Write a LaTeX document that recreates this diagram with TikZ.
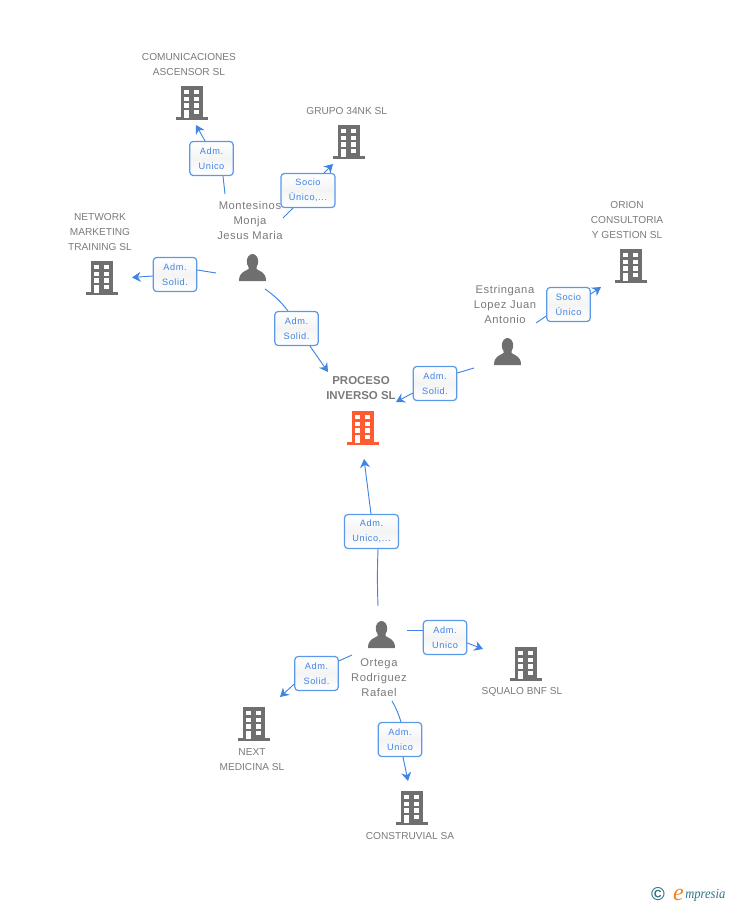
\documentclass[tikz,border=0pt]{standalone}
\usepackage{fontspec}
\setmainfont{Liberation Sans}
\newfontfamily\boxfont[LetterSpace=6]{Liberation Sans}
\newfontfamily\namefont[LetterSpace=5]{Liberation Sans}
\newfontfamily\logofont{Liberation Serif}
\usetikzlibrary{arrows.meta, positioning}

\definecolor{icongray}{HTML}{6F6F6F}
\definecolor{iconred}{HTML}{FF5A30}
\definecolor{textgray}{HTML}{7A7A7A}
\definecolor{linkblue}{HTML}{3F84E5}
\definecolor{boxblue}{HTML}{5A98E8}
\definecolor{boxshade}{HTML}{F4F4F4}
\definecolor{logoteal}{HTML}{2F7488}
\definecolor{logoorange}{HTML}{F58220}

\tikzset{
    pics/bldg/.style={code={
        \node[minimum width=24pt, minimum height=26.25pt, inner sep=0pt] (-body) at (0,0) {};
        \fill[#1] (-11,-16) rectangle (11,16);
        \fill[#1] (-16,15) rectangle (16,18);
        \foreach \wy in {-12,-5.3,1.3} {
            \fill[white] (-7.7,\wy) rectangle (-2.7,\wy+4.4);
            \fill[white] (2.3,\wy) rectangle (7.3,\wy+4.4);
        }
        \fill[white] (-7.7,8) rectangle (-2.7,16);
        \fill[white] (2.3,8) rectangle (7.3,12.4);
    }},
    pics/bldg/.default=icongray,
    person/.pic={
        \node[minimum width=20.25pt, minimum height=20.25pt, inner sep=0pt] (-body) at (0,0) {};
        \fill[icongray] (0,-6) ellipse (5.7 and 7.5);
        \fill[icongray] (-4,-2) -- (-4,1.5) .. controls (-7,4) and (-13.5,4) .. (-13.5,13.5)
            -- (13.5,13.5) .. controls (13.5,4) and (7,4) .. (4,1.5) -- (4,-2) -- cycle;
    },
    lbl/.style={font=\fontsize{7.6}{11.25}\selectfont, text=textgray, align=center, inner sep=0pt},
    who/.style={lbl, font=\namefont\fontsize{8.4}{11.25}\selectfont},
    rel/.style={draw=boxblue, line width=0.9pt, rounded corners=2.5pt, top color=white, bottom color=white,
        middle color=boxshade, text=linkblue, font=\boxfont\fontsize{6.9}{11.25}\selectfont, align=center,
        inner sep=0pt, minimum height=25.5pt},
    relsmall/.style={rel, minimum width=32.5pt},
    relwide/.style={rel, minimum width=40.5pt},
    link/.style={draw=linkblue, line width=0.7pt},
    linkto/.style={link, -{Stealth[length=6.5pt, width=7.5pt]}},
}

\begin{document}
\begin{tikzpicture}[x=0.75pt, y=-0.75pt, node distance=30pt, on grid]
    \useasboundingbox (0,0) rectangle (728,905);

    % companies
    \pic (comm) at (191.5,102) {bldg};
    \pic (grupo) at (349,141) {bldg};
    \pic (network) at (102,277) {bldg};
    \pic (orion) at (631,265) {bldg};
    \pic (proceso) at (363,427) {bldg=iconred};
    \pic (squalo) at (526,663) {bldg};
    \pic (next) at (254,723) {bldg};
    \pic (constru) at (412,807) {bldg};

    % people
    \pic (montesinos) at (252.5,267.5) {person};
    \pic (estringana) at (507.5,351.5) {person};
    \pic (ortega) at (381.5,634.5) {person};

    % names
    \node[lbl, above=27.8pt of comm-body, xshift=-1.9pt] (commname) {COMUNICACIONES\\ASCENSOR SL};
    \node[lbl, above=22.5pt of grupo-body, xshift=-1.7pt] (gruponame) {GRUPO 34NK SL};
    \node[lbl, above=34pt of network-body, xshift=-1.5pt] (networkname) {NETWORK\\MARKETING\\TRAINING SL};
    \node[lbl, above=34pt of orion-body, xshift=-3pt] (orionname) {ORION\\CONSULTORIA\\Y GESTION SL};
    \node[lbl, above=29.3pt of proceso-body, xshift=-1.5pt, font=\fontsize{8.6}{11.25}\selectfont\bfseries] (procesoname) {PROCESO\\INVERSO SL};
    \node[lbl, below=21.8pt of squalo-body, xshift=-3pt] (squaloname) {SQUALO BNF SL};
    \node[lbl, below=27.4pt of next-body, xshift=-1.5pt] (nextname) {NEXT\\MEDICINA SL};
    \node[lbl, below=21.8pt of constru-body, xshift=-1.5pt] (construname) {CONSTRUVIAL SA};
    \node[who, above=35.6pt of montesinos-body, xshift=-1.9pt] (montesinosname) {Montesinos\\Monja\\Jesus Maria};
    \node[who, above=35.6pt of estringana-body, xshift=-1.9pt] (estringananame) {Estringana\\Lopez Juan\\Antonio};
    \node[who, below=32.2pt of ortega-body, xshift=-1.9pt] (orteganame) {Ortega\\Rodriguez\\Rafael};

    % free ends of the links
    \coordinate (m1) at (225,194);
    \coordinate (m2) at (283,218);
    \coordinate (m3) at (216,273);
    \coordinate (m4) at (265,289);
    \coordinate (e1) at (536,323);
    \coordinate (e2) at (474,368);
    \coordinate (o1) at (378,606);
    \coordinate (o2) at (407,630);
    \coordinate (o3) at (352,655);
    \coordinate (o4) at (392,701);
    \coordinate (t1) at (196,125);
    \coordinate (t2) at (333,164);
    \coordinate (t3) at (132,277.5);
    \coordinate (t4) at (328,372);
    \coordinate (t5) at (601,287);
    \coordinate (t6) at (396,402);
    \coordinate (t7) at (364,459);
    \coordinate (t8) at (483,649);
    \coordinate (t9) at (280,697);
    \coordinate (t10) at (408,781);

    % relations
    \node[relsmall] (r1) at (211.5,158.5) {Adm.\\Unico};
    \node[relwide] (r2) at (308,190.5) {Socio\\Único,...};
    \node[relsmall] (r3) at (175,274.5) {Adm.\\Solid.};
    \node[relsmall] (r4) at (296.5,328.5) {Adm.\\Solid.};
    \node[relsmall] (r5) at (568.5,304.5) {Socio\\Único};
    \node[relsmall] (r6) at (435,383.5) {Adm.\\Solid.};
    \node[relwide] (r7) at (371.5,531.5) {Adm.\\Unico,...};
    \node[relsmall] (r8) at (445,637.5) {Adm.\\Unico};
    \node[relsmall] (r9) at (316.5,673.5) {Adm.\\Solid.};
    \node[relsmall] (r10) at (400,739.5) {Adm.\\Unico};

    \draw[link] (m1) -- (r1.south -| 223,0);
    \draw[linkto] (r1.north -| 205,0) -- (t1);
    \draw[link] (m2) -- (r2.south -| 293,0);
    \draw[linkto] (r2.north -| 324,0) -- (t2);
    \draw[link] (m3) -- (r3.east |- 0,270);
    \draw[linkto] (r3.west |- 0,276) -- (t3);
    \draw[link] (m4) to[bend left=8] (r4.north -| 288,0);
    \draw[linkto] (r4.south -| 310,0) -- (t4);
    \draw[link] (e1) -- (r5.west |- 0,316);
    \draw[linkto] (r5.east |- 0,294) -- (t5);
    \draw[link] (e2) -- (r6.east |- 0,373);
    \draw[linkto] (r6.west |- 0,393) -- (t6);
    \draw[link] (o1) to[bend left=2] (r7.south -| 378,0);
    \draw[linkto] (r7.north -| 371,0) -- (t7);
    \draw[link] (o2) -- (r8.west |- 0,630);
    \draw[linkto] (r8.east |- 0,643) -- (t8);
    \draw[link] (o3) -- (r9.east |- 0,661);
    \draw[linkto] (r9.west |- 0,684) -- (t9);
    \draw[link] (o4) to[bend left=6] (r10.north -| 401,0);
    \draw[linkto] (r10.south -| 403,0) -- (t10);

    % logo
    \node[text=logoteal, font=\fontsize{14}{14}\selectfont\bfseries, inner sep=0pt] (copy) at (658,894) {©};
    \node[text=logoorange, font=\logofont\itshape\fontsize{18}{18}\selectfont, inner sep=0pt] (logoe) at (678.5,895) {e};
    \node[text=logoteal, font=\logofont\itshape\fontsize{10.5}{10}\selectfont, inner sep=0pt, anchor=west, xscale=.9] (logoname) at (685,895) {mpresia};
\end{tikzpicture}
\end{document}
